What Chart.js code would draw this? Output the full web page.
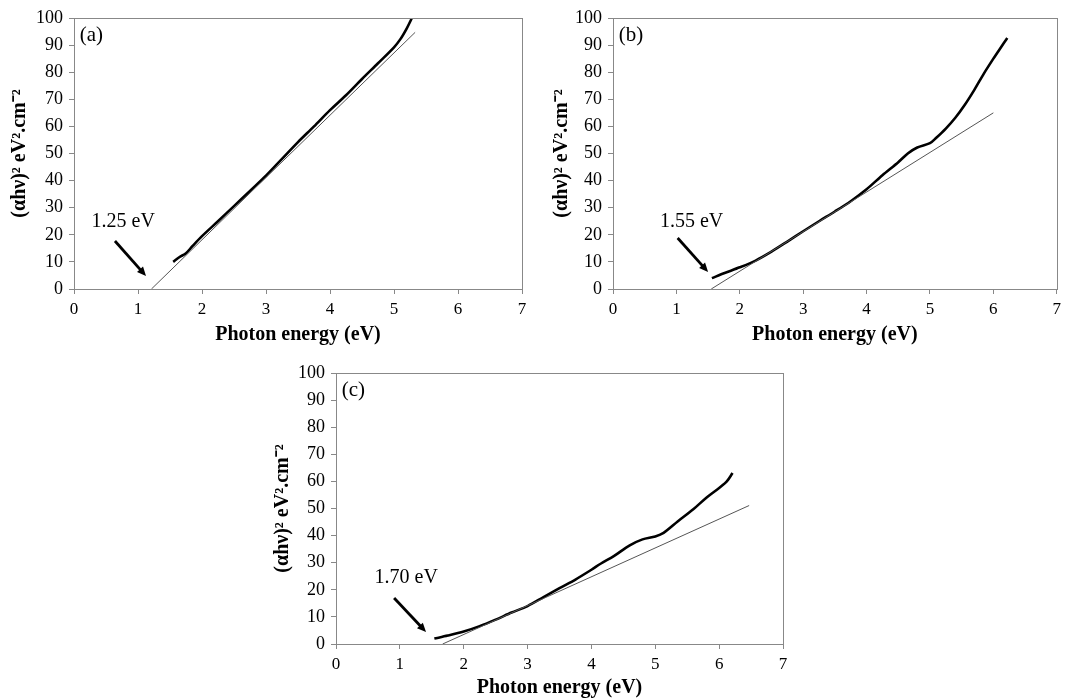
<!DOCTYPE html>
<html>
<head>
<meta charset="UTF-8">
<title>Tauc plots</title>
<script src="https://cdn.jsdelivr.net/npm/chart.js"></script>
<style>
  body { margin: 0; background: #fff; }
  .box { position: absolute; }
</style>
</head>
<body>
<div class="box" style="left:0;top:0;width:540px;height:347px"><canvas id="chartA"></canvas></div>
<div class="box" style="left:540px;top:0;width:526px;height:347px"><canvas id="chartB"></canvas></div>
<div class="box" style="left:260px;top:355px;width:540px;height:345px"><canvas id="chartC"></canvas></div>

<script>
  // measured curves, (αhν)² vs photon energy
  const energyA = [1.55, 1.65, 1.75, 1.85, 2.0, 2.25, 2.5, 2.75, 3.0, 3.25, 3.5, 3.75, 4.0, 4.25, 4.5, 4.75, 5.0, 5.1, 5.2, 5.28];
  const valueA  = [10, 11.8, 13.2, 15.8, 19.5, 25, 30.6, 36.2, 41.8, 48, 54.2, 60, 66, 71.5, 77.5, 83.3, 89.2, 92.2, 96.2, 100];

  const energyB = [1.56, 1.75, 2.0, 2.25, 2.5, 2.75, 3.0, 3.25, 3.5, 3.75, 4.0, 4.25, 4.5, 4.65, 4.8, 5.0, 5.1, 5.25, 5.4, 5.55, 5.7, 5.85, 6.0, 6.1, 6.22];
  const valueB  = [4.0, 5.8, 8.0, 10.5, 13.8, 17.5, 21.3, 25, 28.6, 32.4, 36.8, 42.0, 46.8, 50, 52.2, 53.8, 55.8, 59.2, 63.2, 68, 73.5, 79.5, 85, 88.5, 92.6];

  const energyC = [1.54, 1.75, 2.0, 2.25, 2.5, 2.75, 3.0, 3.25, 3.5, 3.75, 4.0, 4.15, 4.35, 4.6, 4.8, 5.0, 5.13, 5.35, 5.6, 5.8, 6.0, 6.12, 6.21];
  const valueC  = [2.0, 3.1, 4.6, 6.6, 9.0, 11.6, 14.0, 17.3, 20.6, 23.8, 27.4, 29.7, 32.4, 36.4, 38.6, 39.7, 41, 45.2, 49.8, 54, 57.6, 60, 63.1];

  // linear fits (end points)
  const fitXA = [1.21, 5.33], fitYA = [0, 94.7];
  const fitXB = [1.55, 6.0],  fitYB = [0, 65];
  const fitXC = [1.67, 6.47], fitYC = [0, 51.1];

  const panelLabels = ["(a)", "(b)", "(c)"];
  const gapLabels = ["1.25 eV", "1.55 eV", "1.70 eV"];
  // annotation anchors in data units
  const gapTextX = [0.77, 1.24, 1.10];
  const gapTextY = [24.7, 24.7, 24.4];
  const arrowFromX = [0.64, 1.02, 0.91], arrowFromY = [17.7, 18.8, 17.0];
  const arrowToX = [1.125, 1.5, 1.41],  arrowToY = [4.8, 6.3, 4.4];

  const xTicks = [0, 1, 2, 3, 4, 5, 6, 7];
  const yTicks = [0, 10, 20, 30, 40, 50, 60, 70, 80, 90, 100];

  const serif = "'Liberation Serif', 'Times New Roman', serif";

  const notesPlugin = {
    id: "notes",
    afterDraw(chart) {
      const i = chart.options.plugins.notes.index;
      const { ctx, chartArea: a, scales: { x, y } } = chart;
      ctx.save();
      // frame
      ctx.strokeStyle = "#888";
      ctx.lineWidth = 1;
      ctx.strokeRect(Math.round(a.left) + 0.5, Math.round(a.top) + 0.5, Math.round(a.right - a.left), Math.round(a.bottom - a.top));
      ctx.fillStyle = "#000";
      ctx.font = "21px " + serif;
      ctx.textBaseline = "middle";
      ctx.textAlign = "left";
      ctx.fillText(panelLabels[i], x.getPixelForValue(0.09), y.getPixelForValue(93.6));
      ctx.font = "20px " + serif;
      ctx.textAlign = "center";
      ctx.fillText(gapLabels[i], x.getPixelForValue(gapTextX[i]), y.getPixelForValue(gapTextY[i]));
      // arrow
      const x0 = x.getPixelForValue(arrowFromX[i]), y0 = y.getPixelForValue(arrowFromY[i]);
      const x1 = x.getPixelForValue(arrowToX[i]), y1 = y.getPixelForValue(arrowToY[i]);
      const ang = Math.atan2(y1 - y0, x1 - x0);
      const head = 9;
      ctx.strokeStyle = "#000";
      ctx.lineWidth = 2.8;
      ctx.beginPath();
      ctx.moveTo(x0, y0);
      ctx.lineTo(x1 - head * 0.8 * Math.cos(ang), y1 - head * 0.8 * Math.sin(ang));
      ctx.stroke();
      ctx.beginPath();
      ctx.moveTo(x1, y1);
      ctx.lineTo(x1 - head * Math.cos(ang) + 4 * Math.sin(ang), y1 - head * Math.sin(ang) - 4 * Math.cos(ang));
      ctx.lineTo(x1 - head * Math.cos(ang) - 4 * Math.sin(ang), y1 - head * Math.sin(ang) + 4 * Math.cos(ang));
      ctx.closePath();
      ctx.fill();
      ctx.restore();
    }
  };

  function pts(xs, ys) {
    return xs.map((v, k) => ({ x: v, y: ys[k] }));
  }

  function makeChart(id, index, energy, value, fitX, fitY, yWidth, xHeight, pad, yTitlePad) {
    return new Chart(document.getElementById(id), {
      type: "line",
      data: {
        datasets: [
          {
            data: pts(fitX, fitY),
            borderColor: "#555",
            borderWidth: 1,
            pointRadius: 0,
          },
          {
            data: pts(energy, value),
            borderColor: "#000",
            borderWidth: 2.6,
            pointRadius: 0,
            tension: 0.3,
          }
        ]
      },
      options: {
        responsive: true,
        maintainAspectRatio: false,
        animation: false,
        events: [],
        layout: { padding: pad },
        plugins: {
          legend: { display: false },
          tooltip: { enabled: false },
          notes: { index: index }
        },
        scales: {
          x: {
            type: "linear",
            min: 0,
            max: 7,
            afterBuildTicks: s => { s.ticks = xTicks.map(v => ({ value: v })); },
            afterFit: s => { s.height = xHeight; },
            grid: { drawOnChartArea: false, color: "#888", tickLength: 5 },
            border: { color: "#888" },
            ticks: { color: "#000", padding: 5, font: { family: serif, size: 17 } },
            title: {
              display: true,
              text: "Photon energy (eV)",
              color: "#000",
              padding: { top: 0, bottom: 0 },
              font: { family: serif, size: 20, weight: "bold" }
            }
          },
          y: {
            min: 0,
            max: 100,
            afterBuildTicks: s => { s.ticks = yTicks.map(v => ({ value: v })); },
            afterFit: s => { s.width = yWidth; },
            grid: { drawOnChartArea: false, color: "#888", tickLength: 5 },
            border: { color: "#888" },
            ticks: { color: "#000", padding: 6, font: { family: serif, size: 18 } },
            title: {
              display: true,
              text: "(αhν)² eV².cm⁻²",
              color: "#000",
              padding: { top: yTitlePad, bottom: 0 },
              font: { family: serif, size: 20, weight: "bold" }
            }
          }
        }
      },
      plugins: [notesPlugin]
    });
  }

  makeChart("chartA", 0, energyA, valueA, fitXA, fitYA, 74, 58, { top: 18, right: 18, left: 0, bottom: 0 }, 8);
  makeChart("chartB", 1, energyB, valueB, fitXB, fitYB, 73, 58, { top: 18, right: 6, left: 0, bottom: 0 }, 10);
  makeChart("chartC", 2, energyC, valueC, fitXC, fitYC, 76, 56, { top: 18, right: 17, left: 0, bottom: 0 }, 11);
</script>
</body>
</html>
